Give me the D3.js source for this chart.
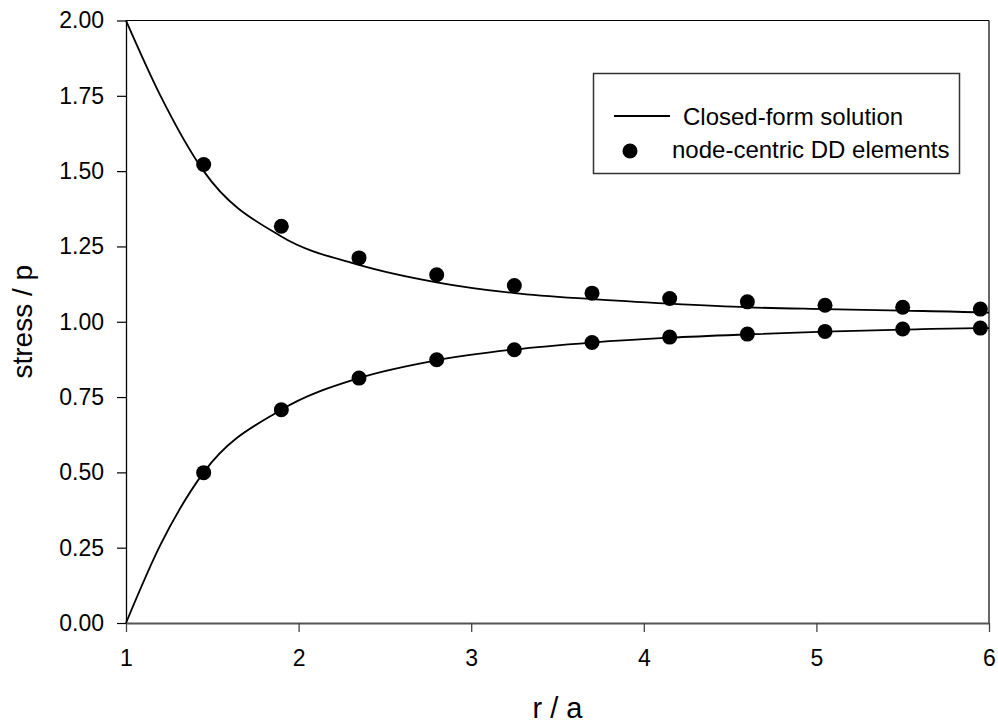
<!DOCTYPE html>
<html>
<head>
<meta charset="utf-8">
<script src="https://cdn.jsdelivr.net/npm/d3@7"></script>
<style>
  body { margin: 0; background: #fff; }
  svg { display: block; font-family: Arial, "Liberation Sans", sans-serif; }
</style>
</head>
<body>
<svg width="998" height="725"></svg>
<script>
// r/a positions of the DD element nodes
var nodeR = [1.45, 1.9, 2.35, 2.8, 3.25, 3.7, 4.15, 4.6, 5.05, 5.5, 5.95];
var ddUpper = [1.522, 1.317, 1.212, 1.156, 1.120, 1.095, 1.077, 1.066, 1.055, 1.048, 1.042];
var ddLower = [0.499, 0.708, 0.813, 0.874, 0.907, 0.931, 0.949, 0.959, 0.968, 0.976, 0.979];

// closed-form curve
var curveR = [1, 1.2, 1.45, 1.9, 2.35, 2.8, 3.25, 3.7, 4.15, 4.6, 5.05, 5.5, 5.95, 6];
var curveUpper = [2.0, 1.75, 1.50, 1.283, 1.189, 1.131, 1.095, 1.075, 1.060, 1.048, 1.042, 1.037, 1.031, 1.030];
var curveLower = [0.0, 0.26, 0.50, 0.708, 0.813, 0.872, 0.908, 0.931, 0.947, 0.958, 0.967, 0.974, 0.979, 0.979];

var xTicks = [1, 2, 3, 4, 5, 6];
var yTicks = [0, 0.25, 0.5, 0.75, 1.0, 1.25, 1.5, 1.75, 2.0];

var svg = d3.select("svg");
var pLeft = 126, pRight = 989, pTop = 20.5, pBottom = 623;

var x = d3.scaleLinear().domain([1, 6]).range([pLeft, pRight]);
var y = d3.scaleLinear().domain([0, 2]).range([pBottom, pTop]);

// frame top + right
svg.append("line").attr("x1", pLeft).attr("x2", pRight).attr("y1", pTop).attr("y2", pTop)
	.attr("stroke", "#000").attr("stroke-width", 1.2);
svg.append("line").attr("x1", pRight).attr("x2", pRight).attr("y1", pTop).attr("y2", pBottom)
	.attr("stroke", "#000").attr("stroke-width", 1.2);

var yAxis = svg.append("g")
	.attr("transform", "translate(" + pLeft + ",0)")
	.call(d3.axisLeft(y).tickValues(yTicks).tickFormat(d3.format(".2f"))
		.tickSize(9).tickSizeOuter(0).tickPadding(13));
yAxis.attr("font-size", 23).attr("font-family", "Arial, 'Liberation Sans', sans-serif");
yAxis.select(".domain").attr("stroke", "#000").attr("stroke-width", 1.3);
yAxis.selectAll(".tick line").attr("stroke", "#000").attr("stroke-width", 1.2);
yAxis.selectAll("text").attr("fill", "#000");

var xAxis = svg.append("g")
	.attr("transform", "translate(0," + pBottom + ")")
	.call(d3.axisBottom(x).tickValues(xTicks).tickFormat(d3.format("d"))
		.tickSize(9).tickSizeOuter(0).tickPadding(18));
xAxis.attr("font-size", 23).attr("font-family", "Arial, 'Liberation Sans', sans-serif");
xAxis.select(".domain").attr("stroke", "#555").attr("stroke-width", 2);
xAxis.selectAll(".tick line").attr("stroke", "#444").attr("stroke-width", 1.3);
xAxis.selectAll("text").attr("fill", "#000");

// closed-form lines
var line = d3.line()
	.x(function(d){ return x(d[0]); })
	.y(function(d){ return y(d[1]); })
	.curve(d3.curveMonotoneX);

[curveUpper, curveLower].forEach(function(vals){
	svg.append("path")
		.datum(curveR.map(function(r, i){ return [r, vals[i]]; }))
		.attr("d", line)
		.attr("fill", "none")
		.attr("stroke", "#000")
		.attr("stroke-width", 1.8);
});

// DD element points
var pts = nodeR.map(function(r, i){ return [r, ddUpper[i]]; })
	.concat(nodeR.map(function(r, i){ return [r, ddLower[i]]; }));
svg.selectAll("circle.dd")
	.data(pts)
	.enter()
	.append("circle")
	.attr("class", "dd")
	.attr("cx", function(d){ return x(d[0]); })
	.attr("cy", function(d){ return y(d[1]); })
	.attr("r", 7.5)
	.attr("fill", "#000");

// axis titles
svg.append("text")
	.attr("x", (pLeft + pRight) / 2).attr("y", 718)
	.attr("text-anchor", "middle")
	.attr("font-size", 29)
	.text("r / a");
svg.append("text")
	.attr("transform", "translate(32," + ((pTop + pBottom) / 2) + ") rotate(-90)")
	.attr("text-anchor", "middle")
	.attr("font-size", 28)
	.text("stress / p");

// legend
var lg = svg.append("g");
lg.append("rect")
	.attr("x", 593.5).attr("y", 73.5).attr("width", 366).attr("height", 100)
	.attr("fill", "#fff").attr("stroke", "#333").attr("stroke-width", 1.5);
lg.append("line")
	.attr("x1", 614).attr("x2", 670).attr("y1", 116).attr("y2", 116)
	.attr("stroke", "#000").attr("stroke-width", 1.8);
lg.append("text")
	.attr("x", 683).attr("y", 125)
	.attr("font-size", 24)
	.text("Closed-form solution");
lg.append("circle")
	.attr("cx", 630).attr("cy", 151).attr("r", 7.5).attr("fill", "#000");
lg.append("text")
	.attr("x", 672).attr("y", 158)
	.attr("font-size", 24)
	.text("node-centric DD elements");
</script>
</body>
</html>
